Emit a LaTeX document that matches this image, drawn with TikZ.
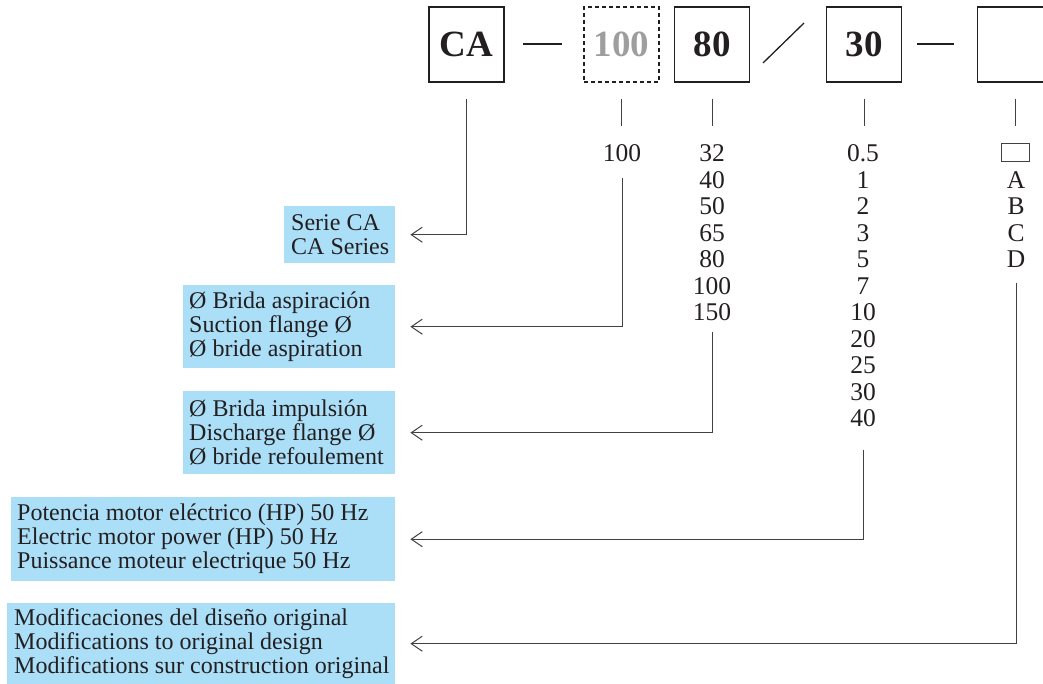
\documentclass[tikz,border=0pt]{standalone}
\usepackage{fontspec}
\setmainfont{Liberation Serif}
\usetikzlibrary{arrows.meta,calc}
\definecolor{lblue}{RGB}{171,223,248}
\definecolor{ink}{RGB}{35,31,32}
\begin{document}
\begin{tikzpicture}[x=1pt,y=-1pt,
  code/.style={draw=ink, line width=1.3pt, minimum width=75pt, minimum height=75pt, inner sep=0pt, font=\fontsize{37}{37}\selectfont\bfseries, text=ink},
  lbl/.style={fill=lblue, inner sep=0pt, anchor=north west},
  lbltext/.style={anchor=west, align=left, inner sep=0pt, font=\fontsize{24}{24}\selectfont, text=ink},
  num/.style={anchor=base, inner sep=0pt, font=\fontsize{25.5}{26.5}\selectfont, text=ink},
  conn/.style={draw=ink!85, line width=1pt},
  sep/.style={draw=ink, line width=1.3pt},
  arr/.style={conn, -{Straight Barb[length=11pt,width=15pt]}, shorten >=15pt},
]
\useasboundingbox (0,0) rectangle (1043,684);

% label boxes
\node[lbl, minimum width=111pt, minimum height=57pt] (l1) at (284,206) {};
\node[lbltext] (t1) at ([xshift=7pt]l1.west) {Serie CA\\CA Series};
\node[lbl, minimum width=212pt, minimum height=83pt] (l2) at (183,285) {};
\node[lbltext] (t2) at ([xshift=6pt]l2.west) {Ø Brida aspiración\\Suction flange Ø\\Ø bride aspiration};
\node[lbl, minimum width=212pt, minimum height=83pt] (l3) at (183,391) {};
\node[lbltext] (t3) at ([xshift=6pt]l3.west) {Ø Brida impulsión\\Discharge flange Ø\\Ø bride refoulement};
\node[lbl, minimum width=384pt, minimum height=84pt] (l4) at (11,497) {};
\node[lbltext] (t4) at ([xshift=6pt]l4.west) {Potencia motor eléctrico (HP) 50 Hz\\Electric motor power (HP) 50 Hz\\Puissance moteur electrique 50 Hz};
\node[lbl, minimum width=388pt, minimum height=81pt] (l5) at (7,603) {};
\node[lbltext] (t5) at ([xshift=7pt]l5.west) {Modificaciones del diseño original\\Modifications to original design\\Modifications sur construction original};

% code boxes
\node[code] (ca) at (466.5,44.5) {CA};
\node[code, dash pattern=on 4pt off 3pt, text=black!38] (c100) at (621.5,44.5) {100};
\node[code] (c80) at (712,44.5) {80};
\node[code] (c30) at (864,44.5) {30};
\node[code] (cx) at (1015,44.5) {};

% separators
\draw[sep] (523,44) -- (562,44);
\draw[sep] (763,63) -- (804,23);
\draw[sep] (917,44) -- (954,44);

% ticks
\foreach \b in {c100,c80,c30,cx}
  \draw[conn] ([yshift=-16pt]\b.south) -- ++(0,27);

% CA
\draw[arr] ([yshift=-16pt]ca.south) |- (l1.east);

% 100
\node[num] (v100) at (622,161.7) {100};
\draw[arr] ([yshift=-16pt]v100.base) |- (l2.east);

% 80 column
\foreach \t [count=\i] in {32,40,50,65,80,100,150}
  \node[num] (d\i) at (712,{161.7+26.5*(\i-1)}) {\t};
\draw[arr] ([yshift=-11pt]d7.base) |- (l3.east);

% 30 column
\foreach \t [count=\i] in {0.5,1,2,3,5,7,10,20,25,30,40}
  \node[num] (e\i) at (863,{161.7+26.5*(\i-1)}) {\t};
\draw[arr] ([yshift=-23pt]e11.base) |- (l4.east);

% last column
\node[draw=ink!85, line width=0.8pt, minimum width=28pt, minimum height=18pt, inner sep=0pt] (sq) at (1015,152) {};
\foreach \t [count=\i] in {A,B,C,D}
  \node[num] (f\i) at (1016,{188.2+26.5*(\i-1)}) {\t};
\draw[arr] ([yshift=-15pt]f4.base) |- (l5.east);
\end{tikzpicture}
\end{document}
